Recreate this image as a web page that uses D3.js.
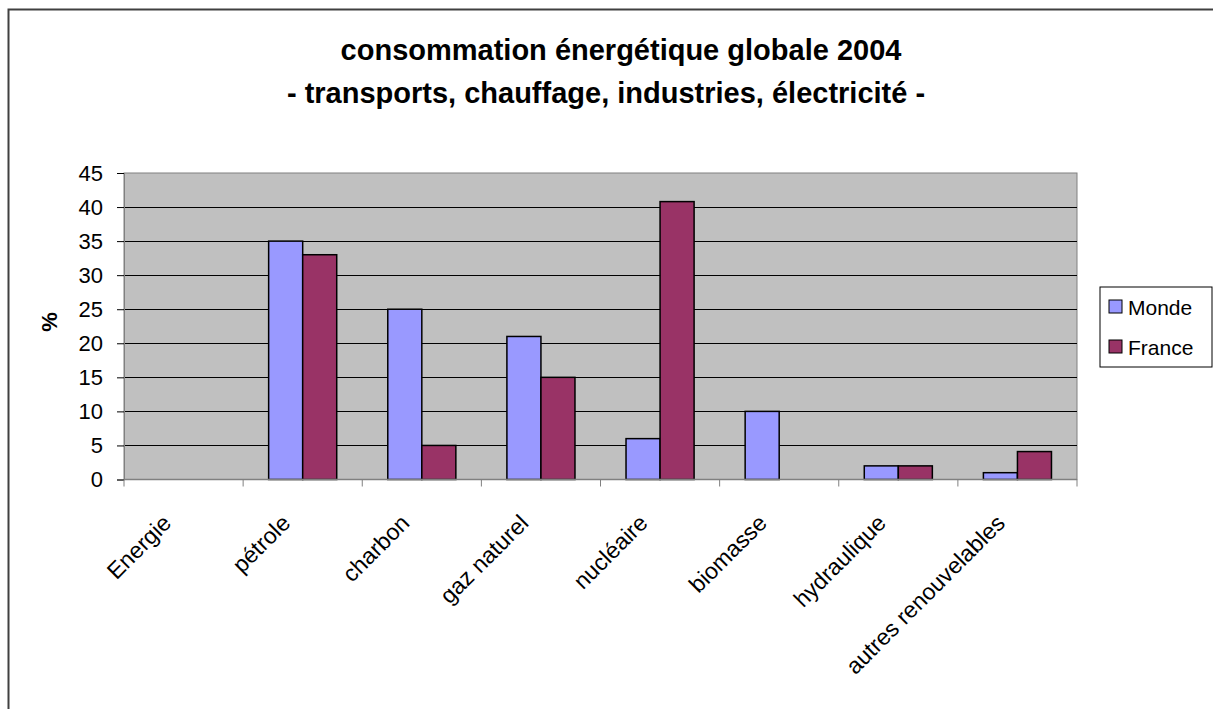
<!DOCTYPE html>
<html>
<head>
<meta charset="utf-8">
<script src="https://cdn.jsdelivr.net/npm/d3@7"></script>
<style>
  body { margin: 0; background: #fff; }
  text { font-family: "Liberation Sans", Arial, sans-serif; }
</style>
</head>
<body>
<div id="graph"></div>
<script>
/* data */
var categories = ["Energie", "pétrole", "charbon", "gaz naturel", "nucléaire", "biomasse", "hydraulique", "autres renouvelables"];
var monde  = [0, 35, 25, 21, 6, 10, 2, 1];
var france = [0, 33, 5, 15, 40.8, 0, 2, 4.1];
var seriesNames = ["Monde", "France"];
var seriesColors = ["#9999FF", "#993366"];
var yTicks = [0, 5, 10, 15, 20, 25, 30, 35, 40, 45];

var width = 1213, height = 709;
var plot = { left: 124, right: 1077, top: 173, bottom: 479.5 };

var svg = d3.select("#graph").append("svg")
            .attr("width", width)
            .attr("height", height);

// outer chart frame
svg.append("rect")
   .attr("x", 8.5).attr("y", 9.5)
   .attr("width", width + 20).attr("height", height + 20)
   .attr("fill", "#fff")
   .attr("stroke", "#404040")
   .attr("stroke-width", 2);

var x = d3.scaleBand()
          .domain(categories)
          .range([plot.left, plot.right])
          .paddingInner(0).paddingOuter(0);

// gap width 150% -> each bar = band / 3.5
var x1 = d3.scaleBand()
           .domain(seriesNames)
           .range([0, x.bandwidth()])
           .paddingInner(0)
           .paddingOuter(0.75);

var y = d3.scaleLinear()
          .domain([0, 45])
          .range([plot.bottom, plot.top]);

// plot background
svg.append("rect")
   .attr("x", plot.left).attr("y", plot.top)
   .attr("width", plot.right - plot.left)
   .attr("height", plot.bottom - plot.top)
   .attr("fill", "#C0C0C0")
   .attr("stroke", "#808080")
   .attr("stroke-width", 1);

// gridlines
svg.append("g")
   .selectAll("line")
   .data(yTicks.filter(function(d) { return d > 0 && d < 45; }))
   .enter()
   .append("line")
   .attr("x1", plot.left).attr("x2", plot.right)
   .attr("y1", function(d) { return Math.round(y(d)) + 0.5; })
   .attr("y2", function(d) { return Math.round(y(d)) + 0.5; })
   .attr("stroke", "#000")
   .attr("stroke-width", 1);

// bars
var rows = categories.map(function(c, i) {
  return { cat: c, vals: [monde[i], france[i]] };
});

var groups = svg.append("g")
   .selectAll("g")
   .data(rows)
   .enter()
   .append("g")
   .attr("transform", function(d) { return "translate(" + x(d.cat) + ",0)"; });

groups.selectAll("rect")
   .data(function(d) { return d.vals.map(function(v, j) { return { name: seriesNames[j], v: v, c: seriesColors[j] }; }); })
   .enter()
   .filter(function(d) { return d.v > 0; })
   .append("rect")
   .attr("x", function(d) { return x1(d.name); })
   .attr("y", function(d) { return y(d.v); })
   .attr("width", x1.bandwidth())
   .attr("height", function(d) { return plot.bottom - y(d.v); })
   .attr("fill", function(d) { return d.c; })
   .attr("stroke", "#000")
   .attr("stroke-width", 1.5);

// y axis
var yAxis = svg.append("g")
   .attr("transform", "translate(" + plot.left + ",0)")
   .call(d3.axisLeft(y).tickValues(yTicks).tickSize(7).tickPadding(14));
yAxis.select(".domain").attr("stroke", "#808080");
yAxis.selectAll(".tick line").attr("stroke", "#000");
yAxis.selectAll("text").style("font-size", "22px").attr("fill", "#000");

// x axis: ticks at category boundaries
var xAxis = svg.append("g")
   .attr("transform", "translate(0," + plot.bottom + ")");
xAxis.append("line")
   .attr("x1", plot.left).attr("x2", plot.right)
   .attr("stroke", "#808080").attr("stroke-width", 1.5);
xAxis.selectAll(".tk")
   .data(categories.concat([null]))
   .enter()
   .append("line")
   .attr("class", "tk")
   .attr("x1", function(d, i) { return plot.left + i * x.bandwidth(); })
   .attr("x2", function(d, i) { return plot.left + i * x.bandwidth(); })
   .attr("y1", 0).attr("y2", 7)
   .attr("stroke", "#808080");

xAxis.selectAll(".lbl")
   .data(categories)
   .enter()
   .append("text")
   .attr("class", "lbl")
   .attr("text-anchor", "end")
   .attr("transform", function(d) {
      return "translate(" + (x(d) + x.bandwidth() / 2 - 11) + ",45) rotate(-45)";
   })
   .style("font-size", "23px")
   .text(function(d) { return d; });

// y label
svg.append("text")
   .attr("transform", "translate(57,322) rotate(-90)")
   .attr("text-anchor", "middle")
   .style("font-size", "22px")
   .style("font-weight", "bold")
   .text("%");

// title
var title = svg.append("text")
   .attr("text-anchor", "middle")
   .style("font-size", "29px")
   .style("font-weight", "bold");
title.append("tspan").attr("x", 621).attr("y", 60).text("consommation énergétique globale 2004");
title.append("tspan").attr("x", 606).attr("y", 103).text("- transports, chauffage, industries, électricité -");

// legend
var legend = svg.append("g").attr("transform", "translate(1100,287)");
legend.append("rect")
   .attr("width", 112).attr("height", 80)
   .attr("fill", "#fff").attr("stroke", "#000");
var li = legend.selectAll(".li")
   .data(seriesNames)
   .enter()
   .append("g")
   .attr("transform", function(d, i) { return "translate(9," + (20 + i * 40) + ")"; });
li.append("rect")
   .attr("x", 0).attr("y", -7)
   .attr("width", 13).attr("height", 13)
   .attr("fill", function(d, i) { return seriesColors[i]; })
   .attr("stroke", "#000");
li.append("text")
   .attr("x", 19).attr("y", 8)
   .style("font-size", "21px")
   .text(function(d) { return d; });
</script>
</body>
</html>
